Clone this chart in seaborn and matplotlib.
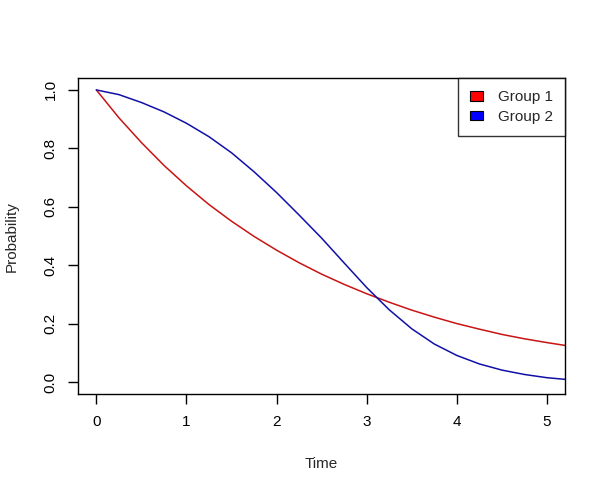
import numpy as np
import pandas as pd
import matplotlib
matplotlib.use("Agg")
import matplotlib.pyplot as plt
import seaborn as sns
from matplotlib.patches import Patch

sns.set_style("white")
plt.rcParams['font.family'] = ['Liberation Sans', 'DejaVu Sans']

time = [0, 0.25, 0.5, 0.75, 1.0, 1.25, 1.5, 1.75, 2.0, 2.25, 2.5, 2.75,
        3.0, 3.25, 3.5, 3.75, 4.0, 4.25, 4.5, 4.75, 5.0, 5.25]
group1 = [1.0, 0.905, 0.820, 0.742, 0.672, 0.608, 0.551, 0.499, 0.452, 0.409,
          0.370, 0.335, 0.303, 0.274, 0.247, 0.223, 0.201, 0.182, 0.164, 0.149,
          0.136, 0.124]
group2 = [1.0, 0.984, 0.957, 0.925, 0.886, 0.840, 0.785, 0.720, 0.649, 0.572,
          0.493, 0.408, 0.324, 0.248, 0.183, 0.131, 0.092, 0.063, 0.042, 0.027,
          0.016, 0.009]
groups = ["Group 1", "Group 2"]
line_colors = ["#C81414", "#1010A8"]
legend_fill = ["#FF0000", "#0000FF"]

df = pd.DataFrame({
    "Time": time + time,
    "Probability": group1 + group2,
    "Group": [groups[0]] * len(time) + [groups[1]] * len(time),
})

fig = plt.figure(figsize=(6.07, 4.92), dpi=100)
ax = fig.add_axes([0.129, 0.199, 0.802, 0.642])
sns.lineplot(data=df, x="Time", y="Probability", hue="Group",
             palette=dict(zip(groups, line_colors)), legend=False,
             linewidth=1.1, ax=ax)

fs = 11
ax.set_xlim(-0.2, 5.2)
ax.set_ylim(-0.04, 1.04)
ax.set_xticks([0, 1, 2, 3, 4, 5])
ax.set_yticks([0.0, 0.2, 0.4, 0.6, 0.8, 1.0])
ax.set_yticklabels(["0.0", "0.2", "0.4", "0.6", "0.8", "1.0"], rotation=90, va="center")
ax.tick_params(axis="both", direction="out", length=7, width=1, colors="black",
               labelsize=fs, pad=8, bottom=True, left=True)
for s in ax.spines.values():
    s.set_color("black")
    s.set_linewidth(1)
ax.set_xlabel("Time", fontsize=fs, labelpad=20)
ax.set_ylabel("Probability", fontsize=fs, labelpad=18)

handles = [Patch(facecolor=c, edgecolor="black", linewidth=0.8, label=g)
           for c, g in zip(legend_fill, groups)]
leg = ax.legend(handles=handles, loc="upper right", bbox_to_anchor=(1.0, 1.0),
                fontsize=fs, frameon=True, fancybox=False, borderaxespad=0,
                handlelength=0.8, handleheight=0.55, handletextpad=1.0,
                borderpad=0.8, labelspacing=0.35)
leg.get_frame().set_edgecolor("black")
leg.get_frame().set_linewidth(1)

fig.savefig("out.png", dpi=100, facecolor="white")
